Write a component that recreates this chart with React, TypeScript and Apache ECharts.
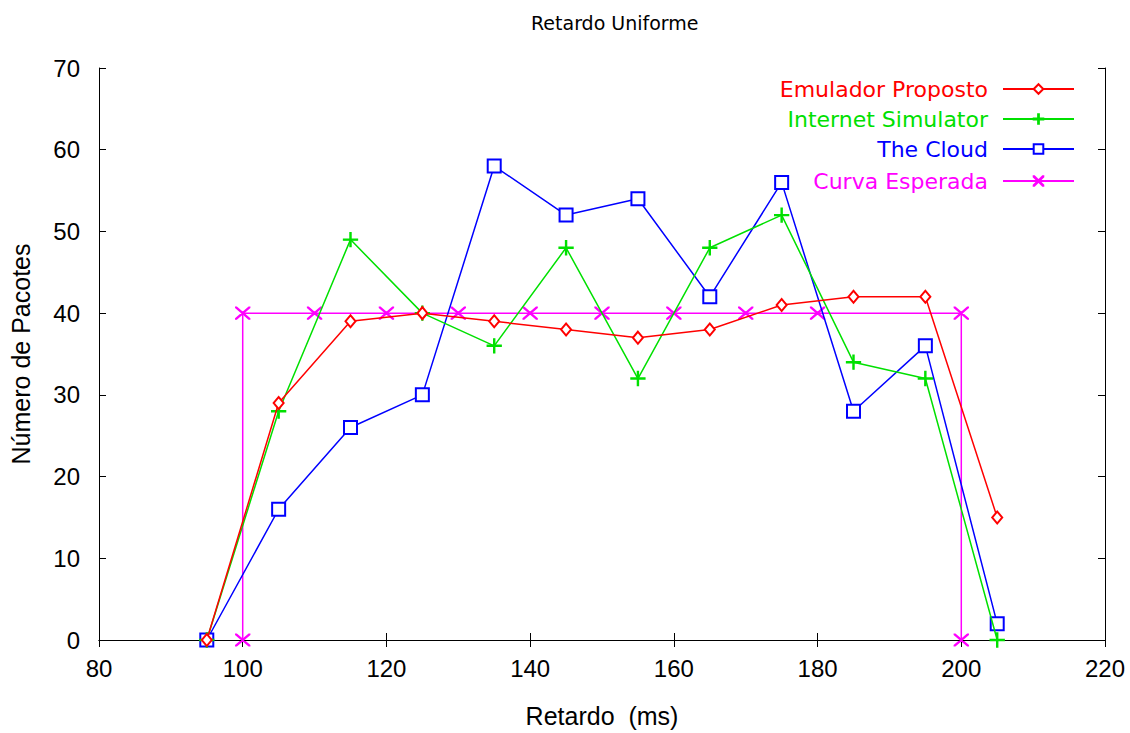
import React, { useEffect, useRef } from "react";
import * as echarts from "echarts";

const xEmulador = [95, 105, 115, 125, 135, 145, 155, 165, 175, 185, 195, 205];
const yEmulador = [0, 29, 39, 40, 39, 38, 37, 38, 41, 42, 42, 15];
const xInternet = [95, 105, 115, 125, 135, 145, 155, 165, 175, 185, 195, 205];
const yInternet = [0, 28, 49, 40, 36, 48, 32, 48, 52, 34, 32, 0];
const xCloud = [95, 105, 115, 125, 135, 145, 155, 165, 175, 185, 195, 205];
const yCloud = [0, 16, 26, 30, 58, 52, 54, 42, 56, 28, 36, 2];
const xEsperada = [100, 100, 110, 120, 130, 140, 150, 160, 170, 180, 200, 200];
const yEsperada = [0, 40, 40, 40, 40, 40, 40, 40, 40, 40, 40, 0];

const seriesNames = ["Emulador Proposto", "Internet Simulator", "The Cloud", "Curva Esperada"];
const seriesColors = ["#ff0000", "#00e000", "#0000ff", "#ff00ff"];

const PLUS = "path://M0,4.6H10V5.4H0Z M4.6,0H5.4V10H4.6Z";
const CROSS = "path://M0,0L0.6,0L10,9.4L10,10L9.4,10L0,0.6Z M9.4,0L10,0L10,0.6L0.6,10L0,10L0,9.4Z";

const zip = (xs: number[], ys: number[]) => xs.map((x, i) => [x, ys[i]]);

export default function App() {
  const ref = useRef<HTMLDivElement>(null);
  useEffect(() => {
    if (!ref.current) return;
    const chart = echarts.init(ref.current, null, { renderer: "svg" });
    const font = "Liberation Sans";
    const wide = "DejaVu Sans";
    const axisCommon = {
      axisLine: { show: true, lineStyle: { color: "#000", width: 1 } },
      axisTick: { show: true, inside: true, length: 7, lineStyle: { color: "#000" } },
      splitLine: { show: false },
    };
    const legendCenters = [89, 119, 149, 181];
    const symbols = ["emptyDiamond", PLUS, "emptyRect", CROSS];
    const symbolSizes: any[] = [[10, 12], 14, 13, [14, 12]];
    const datas = [
      zip(xEmulador, yEmulador),
      zip(xInternet, yInternet),
      zip(xCloud, yCloud),
      zip(xEsperada, yEsperada),
    ];
    chart.setOption({
      animation: false,
      backgroundColor: "#fff",
      title: {
        text: "Retardo Uniforme",
        left: 526,
        top: 8,
        textStyle: { fontFamily: wide, fontSize: 19, fontWeight: "normal", color: "#000" },
      },
      legend: seriesNames.map((n, i) => ({
        data: [n],
        right: 55,
        top: legendCenters[i] - 12,
        align: "right",
        itemWidth: 71,
        itemHeight: 12,
        itemGap: 0,
        padding: 0,
        textStyle: {
          fontFamily: wide,
          fontSize: 22,
          color: seriesColors[i],
          padding: [0, 10, 0, 0],
          lineHeight: 24,
        },
        selectedMode: false,
      })),
      grid: { left: 99, right: 25, top: 68, bottom: 89 },
      xAxis: [
        {
          type: "value",
          min: 80,
          max: 220,
          interval: 20,
          name: "Retardo  (ms)",
          nameLocation: "middle",
          nameGap: 63,
          nameTextStyle: { fontFamily: font, fontSize: 25, color: "#000" },
          axisLabel: { fontFamily: font, fontSize: 24, color: "#000", margin: 16 },
          ...axisCommon,
        },
        {
          type: "value",
          position: "top",
          min: 80,
          max: 220,
          interval: 20,
          axisLabel: { show: false },
          ...axisCommon,
        },
      ],
      yAxis: [
        {
          type: "value",
          min: 0,
          max: 70,
          interval: 10,
          name: "Número de Pacotes",
          nameLocation: "middle",
          nameGap: 66,
          nameTextStyle: { fontFamily: font, fontSize: 25, color: "#000" },
          axisLabel: { fontFamily: font, fontSize: 24, color: "#000", margin: 19 },
          ...axisCommon,
        },
        {
          type: "value",
          position: "right",
          min: 0,
          max: 70,
          interval: 10,
          axisLabel: { show: false },
          ...axisCommon,
        },
      ],
      series: seriesNames.map((n, i) => ({
        name: n,
        type: "line",
        data: datas[i],
        symbol: symbols[i],
        symbolSize: symbolSizes[i],
        showAllSymbol: true,
        smooth: false,
        lineStyle: { color: seriesColors[i], width: 1.5 },
        itemStyle: { color: seriesColors[i], borderColor: seriesColors[i], borderWidth: 1.3 },
        z: 10 - i,
      })),
    });
    return () => chart.dispose();
  }, []);
  return <div ref={ref} style={{ width: 1130, height: 733, position: "absolute", left: 0, top: 0 }} />;
}
